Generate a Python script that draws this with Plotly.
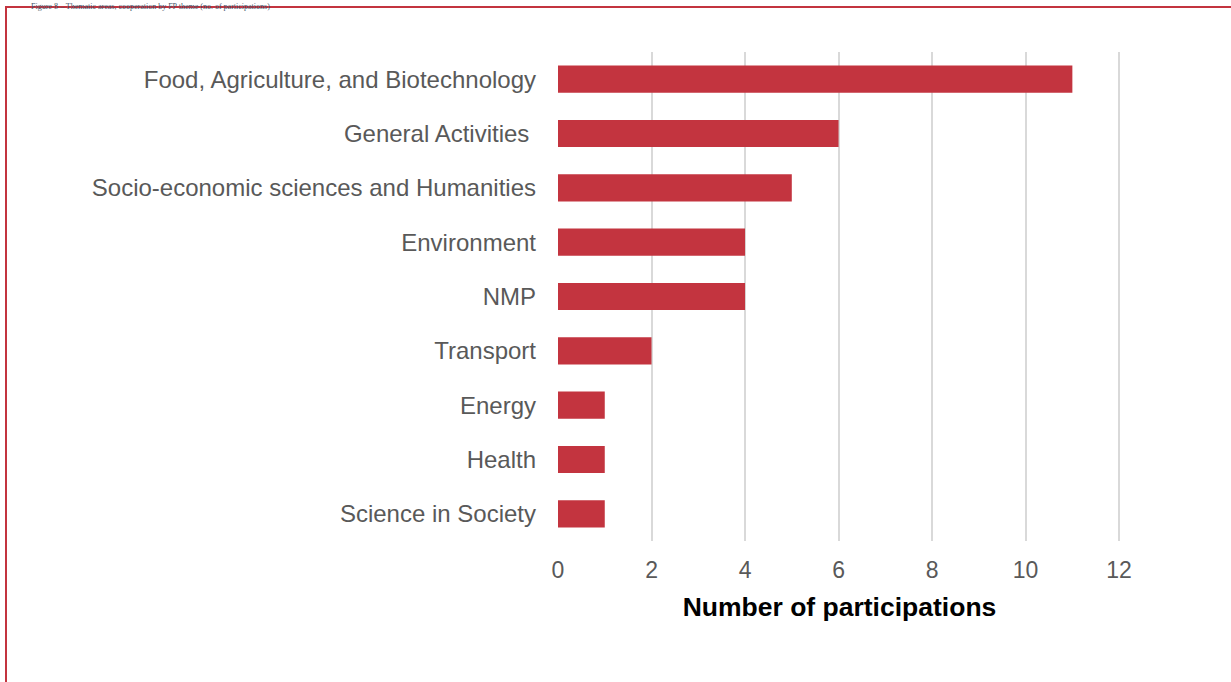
import plotly.graph_objects as go

categories = ["Food, Agriculture, and Biotechnology", "General Activities ",
              "Socio-economic sciences and Humanities", "Environment", "NMP",
              "Transport", "Energy", "Health", "Science in Society"]
values = [11, 6, 5, 4, 4, 2, 1, 1, 1]
x_ticks = [0, 2, 4, 6, 8, 10, 12]

W, H = 1231, 682
L, R, T, B = 558, 110, 52, 141
pw, ph = W - L - R, H - T - B

def px(p):
    return (p - L) / pw

def py(p):
    return (H - B - p) / ph

fig = go.Figure(go.Bar(
    x=values[::-1], y=categories[::-1], orientation="h",
    marker=dict(color="#C3343F", line=dict(width=0)), width=0.5,
))

fig.update_layout(
    width=W, height=H, margin=dict(l=L, r=R, t=T, b=B),
    paper_bgcolor="white", plot_bgcolor="white", showlegend=False,
    font=dict(family="Liberation Sans, Arial, sans-serif", color="#595959", size=24),
    xaxis=dict(range=[0, 12.04], tickvals=x_ticks, showgrid=True, gridcolor="#D9D9D9",
               gridwidth=1.5, zeroline=False, showline=False, ticks="",
               ticklabelstandoff=13,
               tickfont=dict(size=23, color="#595959"),
               title=dict(text="<b>Number of participations</b>",
                          font=dict(size=26.5, color="#000000"), standoff=15)),
    yaxis=dict(showgrid=False, zeroline=False, showline=False, ticks="",
               ticklabelstandoff=21, tickfont=dict(size=24, color="#595959")),
    shapes=[dict(type="rect", xref="paper", yref="paper",
                 x0=px(6), x1=px(1260), y0=py(720), y1=py(7),
                 line=dict(color="#C3343F", width=2), fillcolor="rgba(0,0,0,0)", layer="above")],
    annotations=[dict(text="Figure 8 \u2013 Thematic areas, cooperation by FP theme (no. of participations)",
                      xref="paper", yref="paper", x=px(30), y=py(12), xanchor="left", yanchor="bottom",
                      showarrow=False, borderpad=0,
                      font=dict(family="Liberation Serif, serif", size=8, color="#44546A"))],
)

fig.write_html("out.html", config={"displayModeBar": False},
               post_script="document.body.style.margin='0';document.body.style.overflow='hidden';")
